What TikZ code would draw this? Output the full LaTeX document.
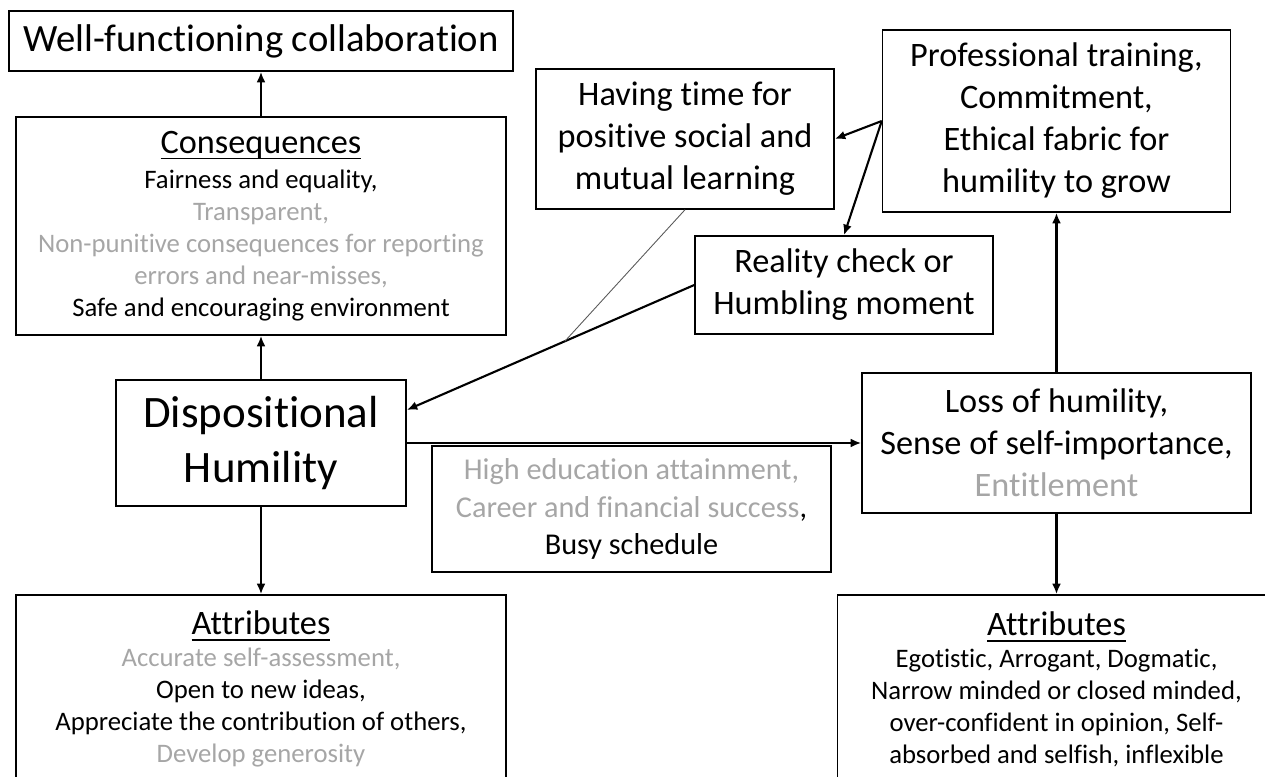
\documentclass[tikz,border=0pt]{standalone}
\usepackage{fontspec}
\setmainfont{Carlito}[Ligatures = NoCommon]
\usetikzlibrary{shapes, arrows.meta}
\definecolor{paletext}{RGB}{166,166,166}
\newcommand{\pale}[1]{\textcolor{paletext}{#1}}
\newcommand{\headfont}{\fontsize{19.5}{23.9}\selectfont}
\newcommand{\bodyfont}{\fontsize{15.2}{18.2}\selectfont}
\newcommand{\uhead}[1]{\setbox0=\hbox{\headfont #1}\rlap{\copy0}\rule[-3.6pt]{\wd0}{1pt}}
\tikzstyle{block} =
        [
                rectangle,
                draw,
                line width = 0.85pt,
                align = center,
                inner sep = 0pt,
                font = \headfont
        ]
\tikzstyle{listbox} =
        [
                block,
                minimum width = 9.8cm,
                font = \bodyfont
        ]
\tikzstyle{line} =
        [
                draw,
                line width = 1.2pt,
                -{Latex[length = 6pt, width = 5pt]}
        ]
\tikzstyle{thinline} =
        [
                draw,
                line width = 0.5pt,
                black!65
        ]

\begin{document}
\begin{tikzpicture}[node distance = 2cm, auto]
        \useasboundingbox (0,0) rectangle (25.3,-15.54);
        \node [block, minimum width = 5.8cm, minimum height = 2.52cm, font = \fontsize{25.6}{31.3}\selectfont] (humility) at (5.22,-8.86) {Dispositional\\Humility};
        \node [listbox, above of = humility, node distance = 4.34cm, minimum height = 4.36cm] (conseq) {\uhead{Consequences}\\[2pt]Fairness and equality,\\\pale{Transparent,}\\\pale{Non-punitive consequences for reporting}\\\pale{errors and near-misses,}\\Safe and encouraging environment};
        \node [block, above of = conseq, node distance = 3.7cm, minimum width = 10.08cm, minimum height = 1.2cm, font = \fontsize{22}{26.4}\selectfont] (title) {Well-functioning collaboration};
        \node [listbox, below of = humility, node distance = 4.92cm, minimum height = 3.76cm] (attrL) {\uhead{Attributes}\\\pale{Accurate self-assessment,}\\Open to new ideas,\\Appreciate the contribution of others,\\\pale{Develop generosity}};
        \node [block, right of = humility, node distance = 15.91cm, minimum width = 7.78cm, minimum height = 2.8cm] (loss) {Loss of humility,\\Sense of self-importance,\\\pale{Entitlement}};
        \node [block, above of = loss, node distance = 6.44cm, minimum width = 6.96cm, minimum height = 3.64cm] (prof) {Professional training,\\Commitment,\\Ethical fabric for\\humility to grow};
        \node [listbox, below of = loss, node distance = 4.92cm, minimum width = 8.76cm, minimum height = 3.76cm] (attrR) {\uhead{Attributes}\\Egotistic, Arrogant, Dogmatic,\\Narrow minded or closed minded,\\over-confident in opinion, Self-\\absorbed and selfish, inflexible};
        \node [block, minimum width = 5.96cm, minimum height = 2.8cm] (having) at (13.7,-2.78) {Having time for\\positive social and\\mutual learning};
        \node [block, minimum width = 5.96cm, minimum height = 1.96cm] (reality) at (16.88,-5.7) {Reality check or\\Humbling moment};
        \node [block, minimum width = 7.98cm, minimum height = 2.52cm, font = \fontsize{17.2}{21.1}\selectfont] (drivers) at (12.63,-10.18) {\pale{High education attainment,}\\\pale{Career and financial success},\\Busy schedule};

        \path [line] (humility) -- (conseq);
        \path [line] (conseq) -- (title);
        \path [line] (humility) -- (attrL);
        \path [line] (humility) -- (loss);
        \path [line] (loss) -- (prof);
        \path [line] (loss) -- (attrR);
        \path [line] (prof.west) -- (having.east);
        \path [line] (prof.west) -- (reality.north);
        \path [line] (reality.west) -- coordinate [pos = 0.45] (meet) ([yshift = 0.66cm] humility.east);
        \path [thinline] (having.south) -- (meet);
\end{tikzpicture}
\end{document}
